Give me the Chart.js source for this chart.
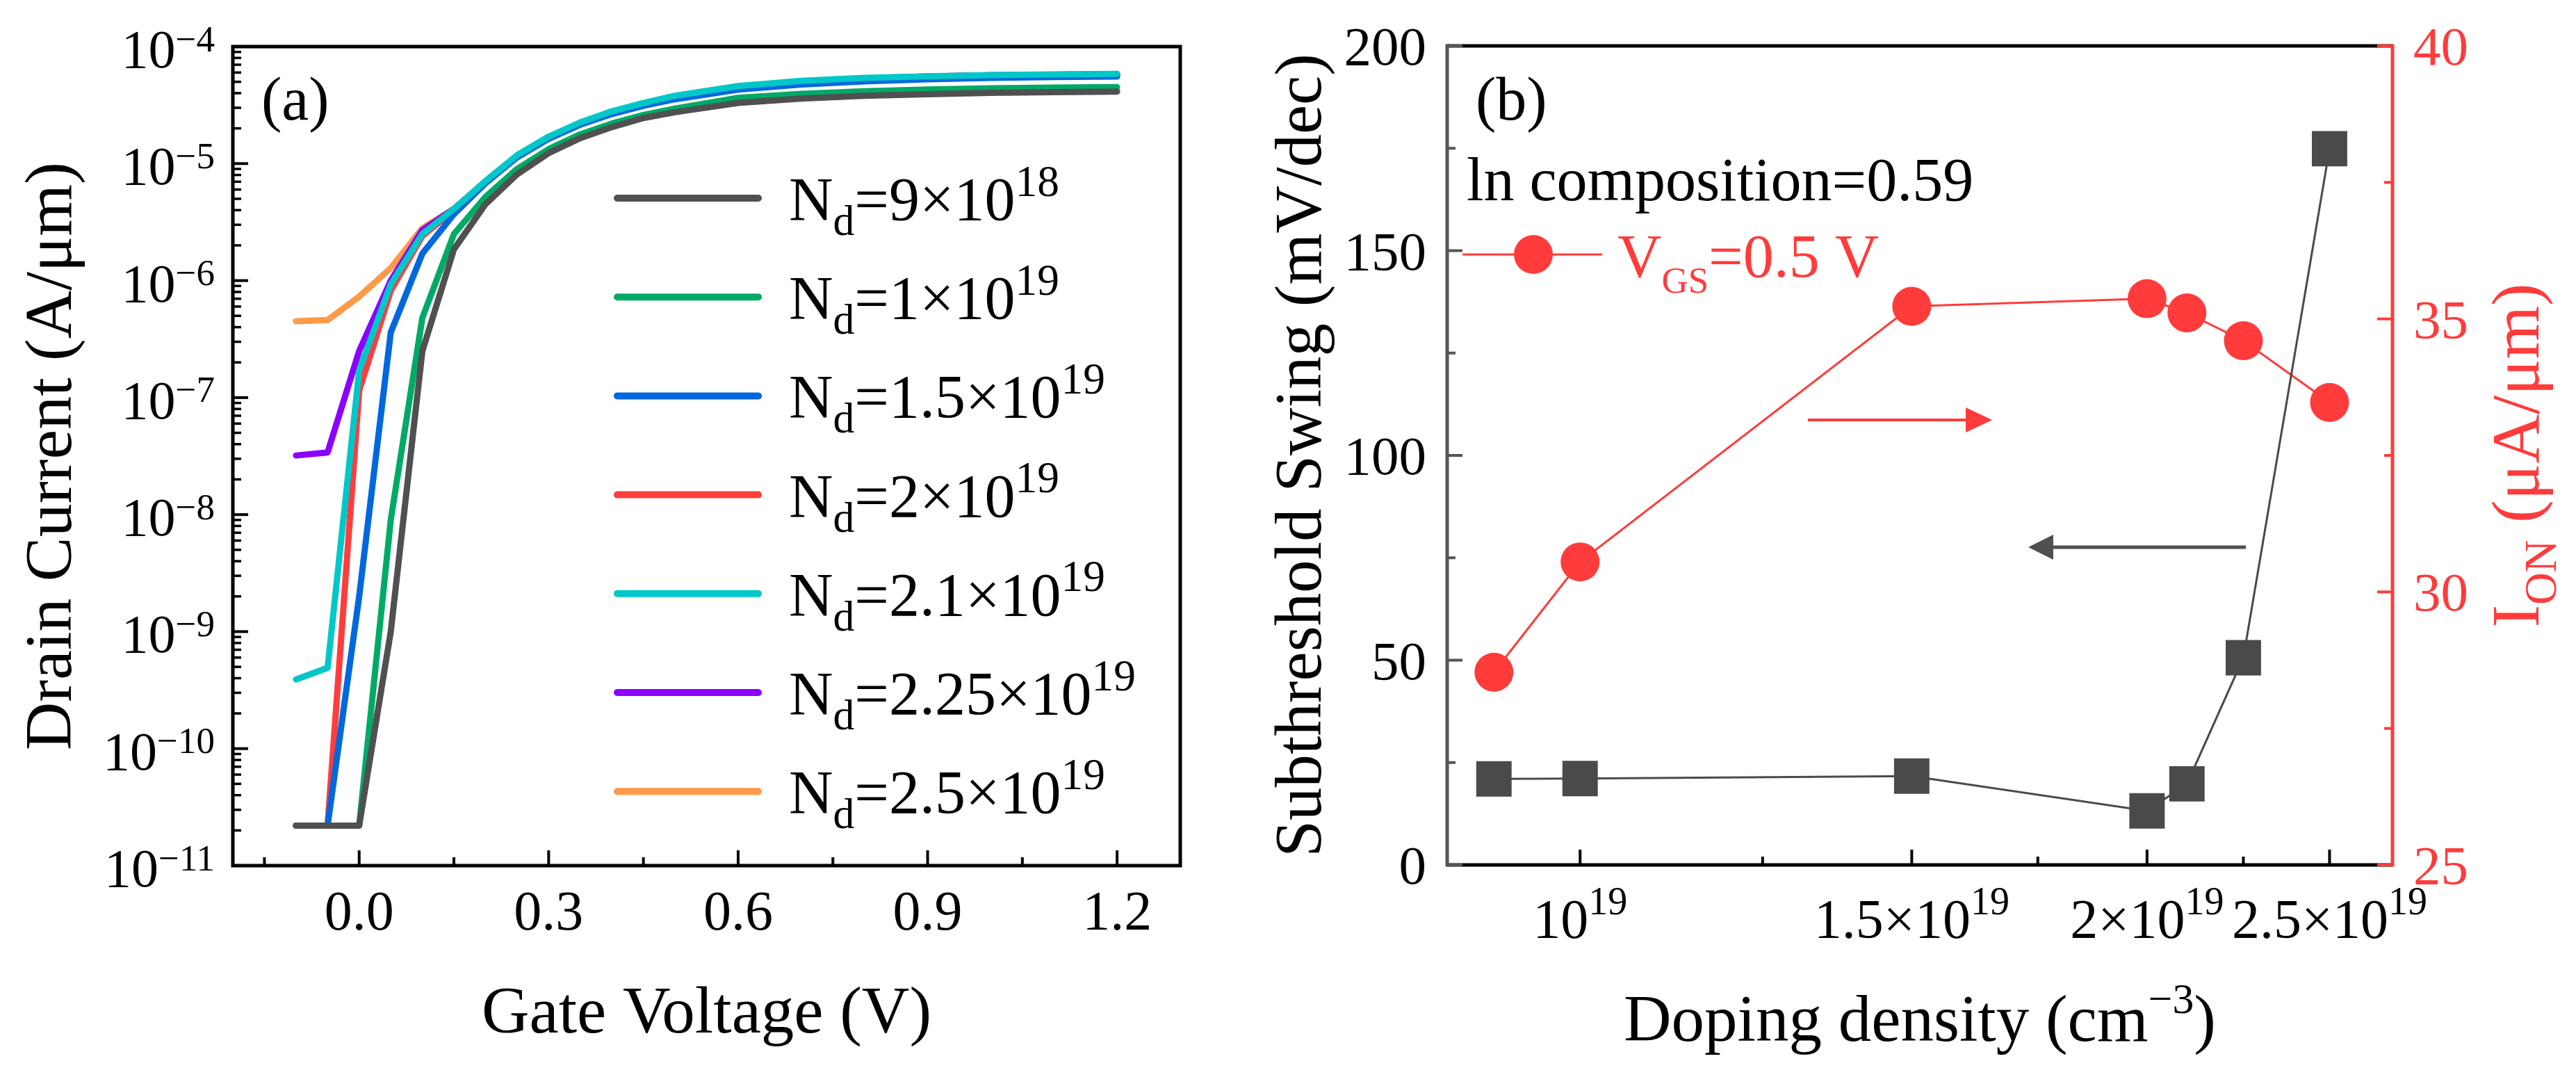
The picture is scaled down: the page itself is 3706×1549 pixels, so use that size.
<!DOCTYPE html>
<html><head><meta charset="utf-8">
<script src="https://cdn.jsdelivr.net/npm/chart.js@4"></script>
<style>
html,body{margin:0;padding:0;background:#fff;width:3706px;height:1549px;overflow:hidden}
canvas{position:absolute;top:0}
#ca{left:0}
#cb{left:1780px}
</style></head><body>
<canvas id="ca" width="1780" height="1549"></canvas>
<canvas id="cb" width="1926" height="1549"></canvas>
<script>
// ================= DATA : panel (a) =================
const gateVoltage = [-0.1,-0.05,0,0.05,0.1,0.15,0.2,0.25,0.3,0.35,0.4,0.45,0.5,0.6,0.7,0.8,0.9,1.0,1.1,1.2];
const idNd9e18   = [2.2e-11,2.2e-11,2.2e-11,1.0e-9,2.5e-7,1.85e-6,4.5e-6,8.1e-6,1.23e-5,1.65e-5,2.05e-5,2.45e-5,2.75e-5,3.3e-5,3.6e-5,3.8e-5,3.92e-5,4.02e-5,4.08e-5,4.13e-5];
const idNd1e19   = [2.2e-11,2.2e-11,2.2e-11,9e-9,4.8e-7,2.5e-6,5.2e-6,9.0e-6,1.33e-5,1.78e-5,2.2e-5,2.6e-5,2.95e-5,3.65e-5,3.95e-5,4.15e-5,4.3e-5,4.4e-5,4.46e-5,4.5e-5];
const idNd15e19  = [2.2e-11,2.2e-11,2.0e-9,3.6e-7,1.7e-6,3.7e-6,6.8e-6,1.13e-5,1.63e-5,2.15e-5,2.65e-5,3.12e-5,3.55e-5,4.3e-5,4.75e-5,5.05e-5,5.25e-5,5.4e-5,5.5e-5,5.55e-5];
const idNd2e19   = [2.2e-11,2.2e-11,1.15e-7,8.2e-7,2.4e-6,4.0e-6,7.0e-6,1.15e-5,1.66e-5,2.2e-5,2.72e-5,3.22e-5,3.7e-5,4.5e-5,5.0e-5,5.35e-5,5.55e-5,5.68e-5,5.75e-5,5.8e-5];
const idNd21e19  = [3.9e-10,4.9e-10,1.7e-7,9.3e-7,2.5e-6,4.1e-6,7.1e-6,1.18e-5,1.7e-5,2.25e-5,2.8e-5,3.3e-5,3.8e-5,4.6e-5,5.1e-5,5.4e-5,5.58e-5,5.7e-5,5.78e-5,5.85e-5];
const idNd225e19 = [3.2e-8,3.4e-8,2.5e-7,1.0e-6,2.7e-6,4.1e-6,7.0e-6,1.16e-5,1.67e-5,2.2e-5,2.75e-5,3.25e-5,3.75e-5,4.55e-5,5.05e-5,5.35e-5,5.55e-5,5.68e-5,5.75e-5,5.8e-5];
const idNd25e19  = [4.5e-7,4.6e-7,7.3e-7,1.28e-6,2.8e-6,4.1e-6,6.9e-6,1.14e-5,1.65e-5,2.18e-5,2.72e-5,3.22e-5,3.72e-5,4.5e-5,5.0e-5,5.3e-5,5.5e-5,5.62e-5,5.7e-5,5.75e-5];
const ndMantissa = ['9','1','1.5','2','2.1','2.25','2.5'];
const ndExponent = ['18','19','19','19','19','19','19'];
const aYTickExp  = [-11,-10,-9,-8,-7,-6,-5,-4];
const aXMajor    = [0,0.3,0.6,0.9,1.2];
const aXLabels   = ['0.0','0.3','0.6','0.9','1.2'];
const aXMinor    = [-0.15,0.15,0.45,0.75,1.05];

// ================= DATA : panel (b) =================
const dopingDensity     = [9e18,1e19,1.5e19,2e19,2.1e19,2.25e19,2.5e19];
const subthresholdSwing = [21.0,21.1,21.7,13.2,19.8,50.6,174.9];
const onCurrent         = [28.53,30.55,35.23,35.37,35.11,34.6,33.47];
const bXMajor     = [1e19,1.5e19,2e19,2.5e19];
const bXLabelMain = ['10','1.5×10','2×10','2.5×10'];
const bXLabelSup  = ['19','19','19','19'];
const bXMinor     = [1.25e19,1.75e19,2.25e19];
const bYMajor  = [0,50,100,150,200];
const bYMinor  = [25,75,125,175];
const bY1Major = [25,30,35,40];
const bY1Minor = [27.5,32.5,37.5];

// ================= STYLES =================
const FONT = '"Liberation Serif", "Times New Roman", serif';
const seriesA = [idNd9e18,idNd1e19,idNd15e19,idNd2e19,idNd21e19,idNd225e19,idNd25e19];
const colorsA = ['#505050','#00aa66','#0068de','#ff3d3d','#00c8c8','#8c00ff','#ff9a48'];
const drawOrderA = [0,3,2,4,1,5,6];
const RED = '#ff3b3b', GRAY = '#4a4a4a';

function rich(ctx, x, y, parts, size, color, align, o) {
  o = Object.assign({sub:0.7, subShift:0.25, sup:0.7, supShift:0.4}, o || {});
  const items = parts.map(([t,k]) => {
    const s = k === 0 ? size : size * (k < 0 ? o.sub : o.sup);
    ctx.font = s.toFixed(1) + 'px ' + FONT;
    return {t, k, s, w: ctx.measureText(t).width};
  });
  const total = items.reduce((a,b) => a + b.w, 0);
  let cx = align === 'right' ? x - total : align === 'center' ? x - total/2 : x;
  ctx.fillStyle = color; ctx.textAlign = 'left'; ctx.textBaseline = 'alphabetic';
  for (const it of items) {
    ctx.font = it.s.toFixed(1) + 'px ' + FONT;
    const dy = it.k < 0 ? size*o.subShift : it.k > 0 ? -size*o.supShift : 0;
    ctx.fillText(it.t, cx, y + dy);
    cx += it.w;
  }
  return total;
}
function seg(ctx, x1, y1, x2, y2) { ctx.beginPath(); ctx.moveTo(x1,y1); ctx.lineTo(x2,y2); ctx.stroke(); }
function rotText(ctx, x, y, parts, size, color, o) {
  ctx.save(); ctx.translate(x, y); ctx.rotate(-Math.PI/2);
  rich(ctx, 0, 0, parts, size, color, 'center', o);
  ctx.restore();
}
function arrow(ctx, xTail, xTip, y, color, lw, hl, hh) {
  const d = Math.sign(xTip - xTail);
  ctx.strokeStyle = color; ctx.fillStyle = color; ctx.lineWidth = lw; ctx.lineCap = 'butt';
  seg(ctx, xTail, y, xTip - d*hl*0.9, y);
  ctx.beginPath(); ctx.moveTo(xTip, y); ctx.lineTo(xTip - d*hl, y - hh); ctx.lineTo(xTip - d*hl, y + hh); ctx.closePath(); ctx.fill();
}

// ================= PANEL (a) =================
const decorA = {
  id: 'decorA',
  afterDraw(chart) {
    const ctx = chart.ctx, a = chart.chartArea, xs = chart.scales.x, ys = chart.scales.y;
    ctx.save();
    ctx.strokeStyle = '#000'; ctx.lineWidth = 5; ctx.lineCap = 'butt';
    ctx.strokeRect(a.left, a.top, a.right - a.left, a.bottom - a.top);
    ctx.lineWidth = 4;
    aYTickExp.forEach(e => {
      const y = ys.getPixelForValue(Number('1e' + e));
      seg(ctx, a.left, y, a.left + 22, y);
      if (e < -4) for (let k = 2; k <= 9; k++) {
        const yy = ys.getPixelForValue(k * Number('1e' + e));
        ctx.lineWidth = 3.5; seg(ctx, a.left, yy, a.left + 12, yy); ctx.lineWidth = 4;
      }
      rich(ctx, a.left - 26, y + 30, [['10',0],['\u2212' + Math.abs(e),1]], 78, '#000', 'right', {sup:0.68, supShift:0.3});
    });
    aXMajor.forEach((v,i) => {
      const x = xs.getPixelForValue(v);
      seg(ctx, x, a.bottom, x, a.bottom - 22);
      rich(ctx, x, a.bottom + 92, [[aXLabels[i],0]], 80, '#000', 'center');
    });
    aXMinor.forEach(v => { const x = xs.getPixelForValue(v); seg(ctx, x, a.bottom, x, a.bottom - 12); });
    // axis titles
    rich(ctx, (a.left + a.right)/2, 1485, [['Gate Voltage (V)',0]], 95, '#000', 'center');
    rotText(ctx, 102, (a.top + a.bottom)/2, [['Drain Current (A/μm)',0]], 96, '#000');
    // panel tag
    rich(ctx, 376, 172, [['(a)',0]], 88, '#000', 'left');
    // legend
    ndMantissa.forEach((m,i) => {
      const y = 285 + i*142.2;
      ctx.strokeStyle = colorsA[i]; ctx.lineWidth = 10; ctx.lineCap = 'round';
      seg(ctx, 888, y, 1091, y);
      rich(ctx, 1135, y + 31, [['N',0],['d',-1],['=' + m + '×10',0],[ndExponent[i],1]], 88, '#000', 'left',
           {sub:0.7, subShift:0.25, sup:0.72, supShift:0.39});
    });
    ctx.restore();
  }
};

new Chart(document.getElementById('ca'), {
  type: 'line',
  data: {
    datasets: seriesA.map((arr,i) => ({
      label: 'Nd=' + ndMantissa[i] + '×10^' + ndExponent[i],
      data: arr.map((v,j) => ({x: gateVoltage[j], y: v})),
      borderColor: colorsA[i], backgroundColor: colorsA[i],
      borderWidth: 9, pointRadius: 0, tension: 0, order: drawOrderA[i],
      borderCapStyle: 'round', borderJoinStyle: 'round'
    }))
  },
  options: {
    responsive: false, animation: false, devicePixelRatio: 1, events: [],
    layout: {padding: {top: 67, right: 1780 - 1698, left: 0, bottom: 0}},
    plugins: {legend: {display: false}, tooltip: {enabled: false}},
    scales: {
      x: {type: 'linear', min: -0.2, max: 1.3, ticks: {display: false}, grid: {display: false}, border: {display: false},
          afterFit: s => { s.height = 1549 - 1245; }},
      y: {type: 'logarithmic', min: 1e-11, max: 1e-4, ticks: {display: false}, grid: {display: false}, border: {display: false},
          afterFit: s => { s.width = 335; }}
    }
  },
  plugins: [decorA]
});

// ================= PANEL (b) =================
const OX = 1780;
const decorB = {
  id: 'decorB',
  afterDraw(chart) {
    const ctx = chart.ctx, a = chart.chartArea, xs = chart.scales.x, ys = chart.scales.y, y1 = chart.scales.y1;
    ctx.save(); ctx.lineCap = 'butt';
    // frame
    ctx.lineWidth = 5;
    ctx.strokeStyle = '#000'; seg(ctx, a.left, a.top, a.right, a.top); seg(ctx, a.left, a.bottom, a.right, a.bottom);
    ctx.strokeStyle = '#555'; seg(ctx, a.left, a.top - 2.5, a.left, a.bottom + 2.5);
    ctx.strokeStyle = RED; seg(ctx, a.right, a.top - 2.5, a.right, a.bottom + 2.5);
    // left axis ticks + labels
    ctx.strokeStyle = '#555'; ctx.lineWidth = 4;
    bYMajor.forEach(v => {
      const y = ys.getPixelForValue(v);
      seg(ctx, a.left, y, a.left + 22, y);
      rich(ctx, a.left - 30, y + 27, [[String(v),0]], 79, '#000', 'right');
    });
    bYMinor.forEach(v => { const y = ys.getPixelForValue(v); seg(ctx, a.left, y, a.left + 12, y); });
    // right axis
    ctx.strokeStyle = RED;
    bY1Major.forEach(v => {
      const y = y1.getPixelForValue(v);
      seg(ctx, a.right, y, a.right - 22, y);
      rich(ctx, a.right + 30, y + 27, [[String(v),0]], 79, RED, 'left');
    });
    bY1Minor.forEach(v => { const y = y1.getPixelForValue(v); seg(ctx, a.right, y, a.right - 12, y); });
    // bottom axis
    ctx.strokeStyle = '#000';
    bXMajor.forEach((v,i) => {
      const x = xs.getPixelForValue(v);
      seg(ctx, x, a.bottom, x, a.bottom - 22);
      rich(ctx, x, a.bottom + 105, [[bXLabelMain[i],0],[bXLabelSup[i],1]], 80, '#000', 'center', {sup:0.7, supShift:0.42});
    });
    bXMinor.forEach(v => { const x = xs.getPixelForValue(v); seg(ctx, x, a.bottom, x, a.bottom - 12); });
    // titles
    rich(ctx, (a.left + a.right)/2, 1497, [['Doping density (cm',0],['\u22123',1],[')',0]], 95, '#000', 'center', {sup:0.65, supShift:0.42});
    rotText(ctx, 1900 - OX, (a.top + a.bottom)/2, [['Subthreshold Swing (mV/dec)',0]], 95, '#000');
    rotText(ctx, 3652 - OX, (a.top + a.bottom)/2, [['I',0],['ON',-1],[' (μA/μm)',0]], 98, RED, {sub:0.66, subShift:0.25});
    // annotations
    rich(ctx, 2123 - OX, 172, [['(b)',0]], 88, '#000', 'left');
    rich(ctx, 2110 - OX, 288, [['ln composition=0.59',0]], 88, '#000', 'left');
    ctx.strokeStyle = RED; ctx.lineWidth = 3; seg(ctx, 2104 - OX, 366, 2305 - OX, 366);
    ctx.fillStyle = RED; ctx.beginPath(); ctx.arc(2206 - OX, 366, 28, 0, Math.PI*2); ctx.fill();
    rich(ctx, 2327 - OX, 398, [['V',0],['GS',-1],['=0.5 V',0]], 88, RED, 'left', {sub:0.6, subShift:0.26});
    arrow(ctx, 2601 - OX, 2866 - OX, 604, RED, 4, 38, 18);
    arrow(ctx, 3231 - OX, 2918 - OX, 787, '#505050', 5, 36, 18);
    ctx.restore();
  }
};

new Chart(document.getElementById('cb'), {
  type: 'line',
  data: {
    datasets: [
      {label: 'Subthreshold Swing', yAxisID: 'y', order: 0,
       data: dopingDensity.map((d,i) => ({x: d, y: subthresholdSwing[i]})),
       borderColor: GRAY, backgroundColor: GRAY, pointBackgroundColor: GRAY,
       borderWidth: 3, pointStyle: 'rect', pointRadius: 36, pointBorderWidth: 0, tension: 0},
      {label: 'ION (VGS=0.5 V)', yAxisID: 'y1', order: 1,
       data: dopingDensity.map((d,i) => ({x: d, y: onCurrent[i]})),
       borderColor: RED, backgroundColor: RED, pointBackgroundColor: RED,
       borderWidth: 3, pointStyle: 'circle', pointRadius: 28, pointBorderWidth: 0, tension: 0}
    ]
  },
  options: {
    responsive: false, animation: false, devicePixelRatio: 1, events: [],
    layout: {padding: {top: 66, right: 0, left: 0, bottom: 0}},
    plugins: {legend: {display: false}, tooltip: {enabled: false}},
    scales: {
      x: {type: 'logarithmic', min: 8.5e18, max: 2.7e19, ticks: {display: false}, grid: {display: false}, border: {display: false},
          afterFit: s => { s.height = 1549 - 1244; }},
      y: {type: 'linear', position: 'left', min: 0, max: 200, ticks: {display: false}, grid: {display: false}, border: {display: false},
          afterFit: s => { s.width = 2082 - OX; }},
      y1: {type: 'linear', position: 'right', min: 25, max: 40, ticks: {display: false}, grid: {display: false}, border: {display: false},
          afterFit: s => { s.width = 1926 - (3442 - OX); }}
    }
  },
  plugins: [decorB]
});
</script></body></html>
